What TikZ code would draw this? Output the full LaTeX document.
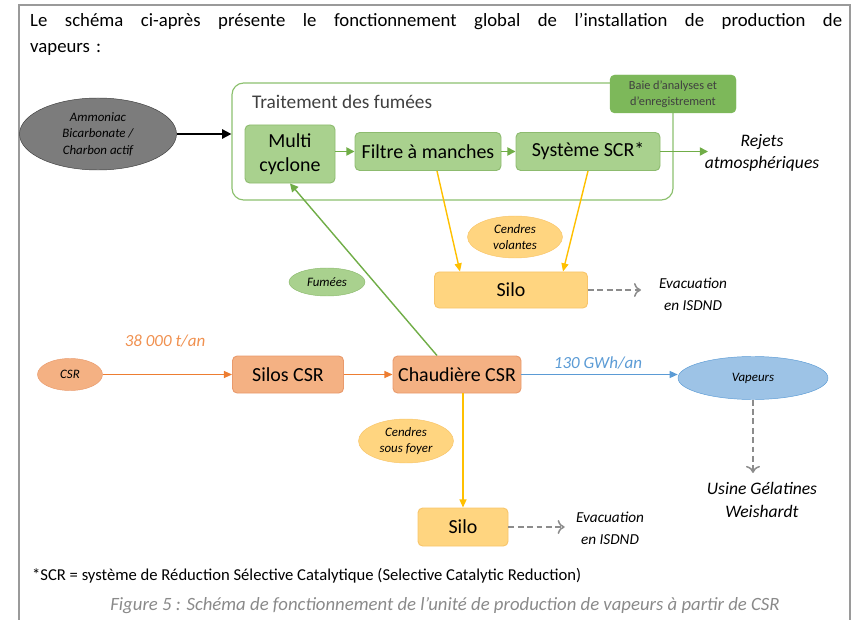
\documentclass[tikz,border=0pt]{standalone}
\usepackage{fontspec}
\setmainfont{Carlito}
\usetikzlibrary{arrows.meta,shapes.geometric}
\definecolor{framegray}{HTML}{9A9A9A}
\definecolor{grpgreen}{HTML}{8CC06E}
\definecolor{boxgreen}{HTML}{A9D18E}
\definecolor{boxgreenline}{HTML}{8DBB6F}
\definecolor{baiegreen}{HTML}{7DB85A}
\definecolor{arrowgreen}{HTML}{70AD47}
\definecolor{ammogray}{HTML}{7C7C7C}
\definecolor{ammoline}{HTML}{404040}
\definecolor{salmon}{HTML}{F4B183}
\definecolor{salmonline}{HTML}{E99A6C}
\definecolor{csrorange}{HTML}{ED7D31}
\definecolor{ashfill}{HTML}{FFD580}
\definecolor{ashline}{HTML}{F8C56A}
\definecolor{ashyellow}{HTML}{FFC000}
\definecolor{steamfill}{HTML}{9DC3E6}
\definecolor{steamline}{HTML}{5B9BD5}
\definecolor{evacgray}{HTML}{8C8C8C}
\definecolor{captiongray}{HTML}{8A8A8A}

\begin{document}
\begin{tikzpicture}[x=0.03cm, y=-0.03cm,
    unit/.style={draw, rounded corners=4pt, line width=0.8pt, align=center,
                 inner sep=1pt, font=\fontsize{17}{21}\selectfont},
    greenbox/.style={unit, fill=boxgreen, draw=boxgreenline},
    salmonbox/.style={unit, fill=salmon, draw=salmonline},
    ashbox/.style={unit, fill=ashfill, draw=ashline},
    tag/.style={ellipse, draw, align=center, inner sep=0pt,
                font=\fontsize{11}{14}\selectfont\itshape},
    flowtext/.style={align=center, inner sep=1pt,
                     font=\fontsize{15}{19}\selectfont\itshape},
    greenflow/.style={draw=arrowgreen, line width=1.4pt, -{Triangle[length=7pt,width=7pt]}},
    orangeflow/.style={draw=csrorange, line width=1.2pt, -{Triangle[length=7pt,width=6pt]}},
    ashflow/.style={draw=ashyellow, line width=1.2pt, -{Triangle[length=7pt,width=6pt]}},
    steamflow/.style={draw=steamline, line width=1.2pt, -{Triangle[length=7pt,width=6pt]}},
    evacflow/.style={draw=evacgray, dash pattern=on 5pt off 3pt, line width=1.3pt,
                     -{To[length=6pt,width=12pt]}}]

  \useasboundingbox (0,0) rectangle (861,620);
  \draw[framegray, line width=1.6pt] (19,630) -- (19,5) -- (850,5) -- (850,630);

  \node[anchor=north west, align=left, text width=24.36cm, inner sep=0pt,
        font=\fontsize{16}{22}\selectfont] (intro) at (30,13)
    {\hbox to 24.36cm{\spaceskip=0.226em plus 1fil\relax Le schéma ci-après présente le fonctionnement global de l'installation de production de}\\vapeurs :};

  % traitement des fumees
  \node[draw=grpgreen, line width=1pt, rounded corners=10pt,
        minimum width=13.23cm, minimum height=3.51cm] (traitement) at (452.5,141.5) {};
  \node[anchor=west, font=\fontsize{16.5}{18}\selectfont, text=black!75] (titre) at (248,102) {Traitement des fumées};
  \node[draw=baiegreen, fill=baiegreen, rounded corners=4pt, align=center, inner sep=1pt,
        font=\fontsize{10.5}{14}\selectfont, text=black!75,
        minimum width=3.78cm, minimum height=1.14cm] (baie) at (673,94) {Baie d'analyses et\\d'enregistrement};
  \node[greenbox, minimum width=2.7cm, minimum height=1.74cm] (multi) at (290,154) {Multi\\cyclone};
  \node[greenbox, minimum width=4.38cm, minimum height=1.14cm] (filtre) at (428,151.5) {Filtre à manches};
  \node[greenbox, minimum width=4.32cm, minimum height=1.14cm] (scr) at (588,151.5) {Système SCR*};
  \node[flowtext] (rejets) at (762,153) {Rejets\\atmosphériques};
  \coordinate (rejetsin) at (708,151.5);

  \node[tag, fill=ammogray, draw=ammoline, minimum width=4.71cm, minimum height=2.16cm] (reactifs) at (98,134)
    {Ammoniac\\Bicarbonate /\\Charbon actif};
  \draw[line width=1.5pt, -{Triangle[length=8pt,width=8pt]}] (reactifs.east) -- (reactifs.east -| traitement.west);
  \draw[greenflow] (multi.east |- filtre) -- (filtre.west);
  \draw[greenflow] (filtre) -- (scr);
  \draw[greenflow] (scr.east) -- (rejetsin);

  % cendres volantes
  \node[ashbox, minimum width=4.59cm, minimum height=1.08cm] (silo) at (511,290) {Silo};
  \node[tag, fill=ashfill, draw=ashline, minimum width=2.85cm, minimum height=1.26cm] (volantes) at (515,237) {Cendres\\volantes};
  \draw[ashflow] ([xshift=0.27cm]filtre.south) -- ([xshift=-1.53cm]silo.north);
  \draw[ashflow] (scr.south) -- ([xshift=1.56cm]silo.north);
  \node[flowtext, font=\fontsize{13}{19}\selectfont\itshape] (evachaut) at (693,294) {Evacuation\\en ISDND};
  \draw[evacflow, shorten >=0.5cm] (silo.east) -- (silo.east -| evachaut.west);

  % ligne CSR
  \node[tag, fill=salmon, draw=salmonline, minimum width=1.95cm, minimum height=0.96cm] (csr) at (70,374.5) {CSR};
  \node[salmonbox, minimum width=3.33cm, minimum height=1.11cm] (siloscsr) at (288,374.5) {Silos CSR};
  \node[salmonbox, minimum width=3.84cm, minimum height=1.11cm] (chaud) at (457,374.5) {Chaudière CSR};
  \node[tag, fill=steamfill, draw=steamline, minimum width=4.5cm, minimum height=1.29cm] (vapeurs) at (753,378) {Vapeurs};
  \node[flowtext, font=\fontsize{14.5}{17}\selectfont\itshape, text=csrorange!85!white] (tonnage) at (165,341) {38 000 t/an};
  \node[flowtext, font=\fontsize{14.5}{17}\selectfont\itshape, text=steamline] (energie) at (598,363) {130 GWh/an};
  \draw[orangeflow] (csr) -- (siloscsr);
  \draw[orangeflow] (siloscsr) -- (chaud);
  \draw[steamflow] (chaud.east) -- (chaud.east -| vapeurs.west);

  \node[tag, fill=boxgreen, draw=boxgreenline, minimum width=2.28cm, minimum height=0.84cm] (fumees) at (327,282) {Fumées};
  \draw[greenflow, line width=1.2pt] ([xshift=-0.6cm]chaud.north) -- (multi.south);

  % vapeurs vers l'usine
  \node[flowtext] (usine) at (762,500) {Usine Gélatines\\Weishardt};
  \draw[evacflow, shorten >=0.25cm] (vapeurs.south) -- (vapeurs.south |- usine.north);

  % cendres sous foyer
  \node[ashbox, minimum width=2.7cm, minimum height=1.14cm] (silobas) at (463,527) {Silo};
  \node[tag, fill=ashfill, draw=ashline, minimum width=2.85cm, minimum height=1.32cm] (foyer) at (406,441) {Cendres\\sous foyer};
  \draw[ashflow] (chaud.south -| silobas.north) -- (silobas.north);
  \node[flowtext, font=\fontsize{13}{19}\selectfont\itshape] (evacbas) at (610,528) {Evacuation\\en ISDND};
  \draw[evacflow, shorten >=0.3cm] (silobas.east) -- (silobas.east -| evacbas.west);

  \node[anchor=west, font=\fontsize{14.2}{16}\selectfont] (renvoi) at (28,576)
    {*SCR = système de Réduction Sélective Catalytique (Selective Catalytic Reduction)};
  \node[font=\fontsize{16}{18}\selectfont\itshape, text=captiongray] (legende) at (445,606)
    {Figure 5 : Schéma de fonctionnement de l'unité de production de vapeurs à partir de CSR};
\end{tikzpicture}
\end{document}
